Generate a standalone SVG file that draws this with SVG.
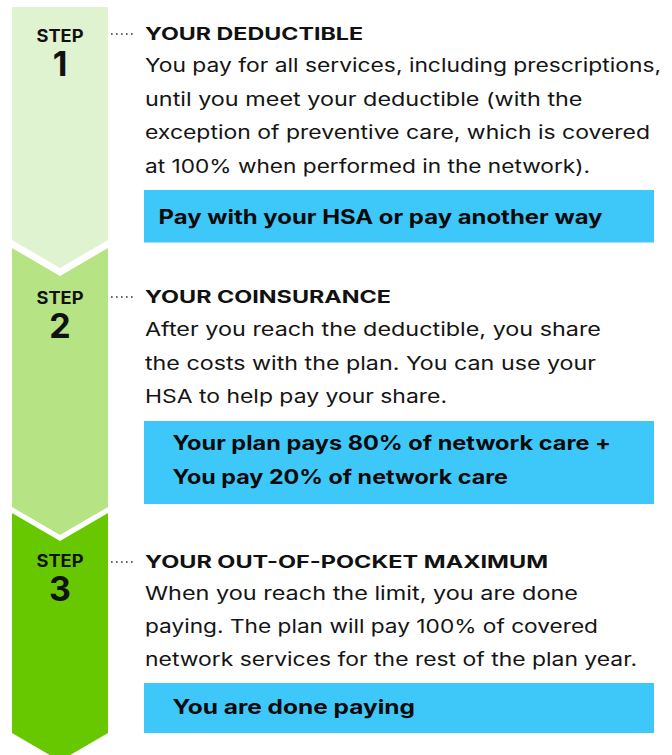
<svg xmlns="http://www.w3.org/2000/svg" width="672" height="755" viewBox="0 0 672 755">
<style>
.body{font-family:Inter,"Open Sans","Liberation Sans",sans-serif;font-size:18.6px;fill:#141414}
.head{font-family:Inter,"Open Sans","Liberation Sans",sans-serif;font-size:17px;font-weight:700;fill:#111}
.box{fill:#3ec8fa}
.boxt{font-family:Inter,"Open Sans","Liberation Sans",sans-serif;font-size:20px;font-weight:700;fill:#0a0a0a}
.step{font-family:Inter,"Open Sans","Liberation Sans",sans-serif;font-size:17px;font-weight:700;fill:#111;text-anchor:middle}
.num{font-family:Inter,"Open Sans","Liberation Sans",sans-serif;font-size:34px;font-weight:700;fill:#111;text-anchor:middle}
.dots{stroke:#333;stroke-width:1.6;stroke-dasharray:1.6 3.4;fill:none}
</style>
<rect width="672" height="755" fill="#ffffff"/>
<g id="step1">
<path d="M12,7 H108 V240 L60,268 L12,240 Z" fill="#e0f3d0"/>
<text class="step" x="60" y="42" textLength="47" lengthAdjust="spacingAndGlyphs">STEP</text>
<text class="num" x="60" y="75.5">1</text>
<text class="head" x="145" y="39.5" textLength="218" lengthAdjust="spacingAndGlyphs">YOUR DEDUCTIBLE</text>
<text class="body" x="145" y="72" textLength="516" lengthAdjust="spacingAndGlyphs">You pay for all services, including prescriptions,</text>
<text class="body" x="145" y="105.5" textLength="437.5" lengthAdjust="spacingAndGlyphs">until you meet your deductible (with the</text>
<text class="body" x="145" y="139" textLength="505" lengthAdjust="spacingAndGlyphs">exception of preventive care, which is covered</text>
<text class="body" x="145" y="172.5" textLength="445" lengthAdjust="spacingAndGlyphs">at 100% when performed in the network).</text>
<rect class="box" x="144" y="190" width="510" height="52.5"/>
<text class="boxt" x="158.5" y="224" textLength="444" lengthAdjust="spacingAndGlyphs">Pay with your HSA or pay another way</text>
</g>
<g id="step2">
<path d="M12,248 L60,276 L108,248 V507 L60,535 L12,507 Z" fill="#b6e384"/>
<text class="step" x="60" y="304" textLength="47" lengthAdjust="spacingAndGlyphs">STEP</text>
<text class="num" x="60" y="337.5">2</text>
<text class="head" x="145" y="302.5" textLength="246" lengthAdjust="spacingAndGlyphs">YOUR COINSURANCE</text>
<text class="body" x="145" y="336" textLength="456" lengthAdjust="spacingAndGlyphs">After you reach the deductible, you share</text>
<text class="body" x="145" y="369.5" textLength="451" lengthAdjust="spacingAndGlyphs">the costs with the plan. You can use your</text>
<text class="body" x="145" y="403" textLength="302" lengthAdjust="spacingAndGlyphs">HSA to help pay your share.</text>
<rect class="box" x="144" y="421" width="510" height="83"/>
<text class="boxt" x="172.5" y="450" textLength="438.5" lengthAdjust="spacingAndGlyphs">Your plan pays 80% of network care +</text>
<text class="boxt" x="172.5" y="484" textLength="335.5" lengthAdjust="spacingAndGlyphs">You pay 20% of network care</text>
</g>
<g id="step3">
<path d="M12,513 L60,541 L108,513 V733 L60,761 L12,733 Z" fill="#68c800"/>
<text class="step" x="60" y="566.5" textLength="47" lengthAdjust="spacingAndGlyphs">STEP</text>
<text class="num" x="60" y="600.5">3</text>
<text class="head" x="145" y="567.5" textLength="403" lengthAdjust="spacingAndGlyphs">YOUR OUT-OF-POCKET MAXIMUM</text>
<text class="body" x="145" y="600" textLength="433" lengthAdjust="spacingAndGlyphs">When you reach the limit, you are done</text>
<text class="body" x="145" y="633" textLength="453" lengthAdjust="spacingAndGlyphs">paying. The plan will pay 100% of covered</text>
<text class="body" x="145" y="666" textLength="492" lengthAdjust="spacingAndGlyphs">network services for the rest of the plan year.</text>
<rect class="box" x="144" y="683" width="510" height="50"/>
<text class="boxt" x="172.5" y="714" textLength="242.5" lengthAdjust="spacingAndGlyphs">You are done paying</text>
</g>
<g id="connectors">
<line class="dots" x1="111" y1="34" x2="134" y2="34"/>
<line class="dots" x1="111" y1="297" x2="134" y2="297"/>
<line class="dots" x1="111" y1="562" x2="134" y2="562"/>
</g>
</svg>
